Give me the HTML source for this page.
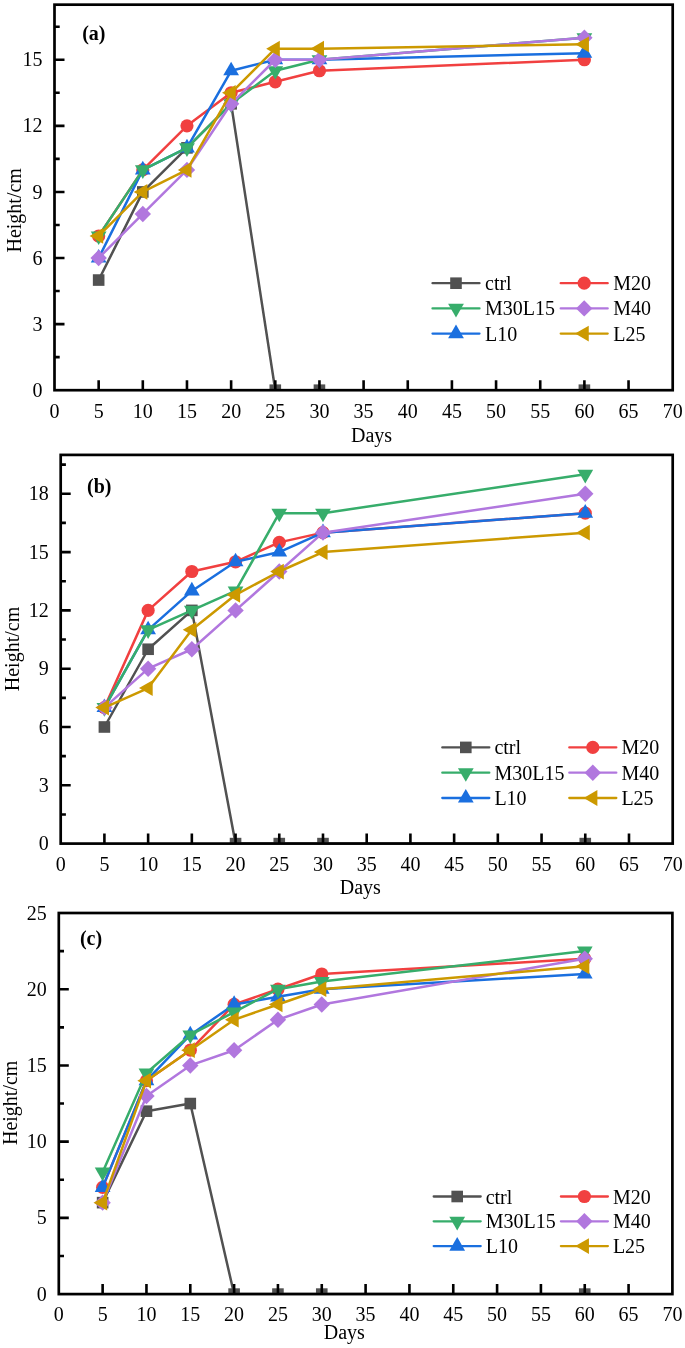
<!DOCTYPE html>
<html><head><meta charset="utf-8"><title>Height chart</title>
<style>
html,body{margin:0;padding:0;background:#fff;}
body{width:685px;height:1348px;overflow:hidden;}
svg{display:block;will-change:transform;}
text{font-family:"Liberation Serif",serif;font-size:20px;fill:#000;}
.b{font-weight:bold;}
</style></head><body>
<svg width="685" height="1348" viewBox="0 0 685 1348">
<rect width="685" height="1348" fill="#fff"/>
<clipPath id="c0"><rect x="54.5" y="4.67" width="618.2" height="385.53"/></clipPath>
<g clip-path="url(#c0)">
<polyline points="98.66,280.05 142.81,191.93 186.97,147.87 231.13,103.81 275.29,390.2 319.44,390.2 584.39,390.2" fill="none" stroke="#515151" stroke-width="2.5" stroke-linejoin="round"/>
<rect x="92.86" y="274.25" width="11.6" height="11.6" fill="#515151"/>
<rect x="137.01" y="186.13" width="11.6" height="11.6" fill="#515151"/>
<rect x="181.17" y="142.07" width="11.6" height="11.6" fill="#515151"/>
<rect x="225.33" y="98.01" width="11.6" height="11.6" fill="#515151"/>
<rect x="269.49" y="384.4" width="11.6" height="11.6" fill="#515151"/>
<rect x="313.64" y="384.4" width="11.6" height="11.6" fill="#515151"/>
<rect x="578.59" y="384.4" width="11.6" height="11.6" fill="#515151"/>
<polyline points="98.66,235.99 142.81,169.9 186.97,125.84 231.13,92.79 275.29,81.78 319.44,70.76 584.39,59.75" fill="none" stroke="#F14040" stroke-width="2.5" stroke-linejoin="round"/>
<circle cx="98.66" cy="235.99" r="6.6" fill="#F14040"/>
<circle cx="142.81" cy="169.9" r="6.6" fill="#F14040"/>
<circle cx="186.97" cy="125.84" r="6.6" fill="#F14040"/>
<circle cx="231.13" cy="92.79" r="6.6" fill="#F14040"/>
<circle cx="275.29" cy="81.78" r="6.6" fill="#F14040"/>
<circle cx="319.44" cy="70.76" r="6.6" fill="#F14040"/>
<circle cx="584.39" cy="59.75" r="6.6" fill="#F14040"/>
<polyline points="98.66,258.02 142.81,169.9 186.97,147.87 231.13,70.76 275.29,59.75 319.44,59.75 584.39,53.14" fill="none" stroke="#1A6FDF" stroke-width="2.5" stroke-linejoin="round"/>
<polygon points="98.66,248.92 106.54,262.57 90.78,262.57" fill="#1A6FDF"/>
<polygon points="142.81,160.8 150.7,174.45 134.93,174.45" fill="#1A6FDF"/>
<polygon points="186.97,138.77 194.85,152.42 179.09,152.42" fill="#1A6FDF"/>
<polygon points="231.13,61.66 239.01,75.31 223.25,75.31" fill="#1A6FDF"/>
<polygon points="275.29,50.65 283.17,64.3 267.4,64.3" fill="#1A6FDF"/>
<polygon points="319.44,50.65 327.32,64.3 311.56,64.3" fill="#1A6FDF"/>
<polygon points="584.39,44.04 592.27,57.69 576.5,57.69" fill="#1A6FDF"/>
<polyline points="98.66,235.99 142.81,169.9 186.97,147.87 231.13,103.81 275.29,70.76 319.44,59.75 584.39,37.72" fill="none" stroke="#37AD6B" stroke-width="2.5" stroke-linejoin="round"/>
<polygon points="98.66,245.09 106.54,231.44 90.78,231.44" fill="#37AD6B"/>
<polygon points="142.81,179 150.7,165.35 134.93,165.35" fill="#37AD6B"/>
<polygon points="186.97,156.97 194.85,143.32 179.09,143.32" fill="#37AD6B"/>
<polygon points="231.13,112.91 239.01,99.26 223.25,99.26" fill="#37AD6B"/>
<polygon points="275.29,79.86 283.17,66.21 267.4,66.21" fill="#37AD6B"/>
<polygon points="319.44,68.85 327.32,55.2 311.56,55.2" fill="#37AD6B"/>
<polygon points="584.39,46.82 592.27,33.17 576.5,33.17" fill="#37AD6B"/>
<polyline points="98.66,258.02 142.81,213.96 186.97,169.9 231.13,103.81 275.29,59.75 319.44,59.75 584.39,37.72" fill="none" stroke="#B177DE" stroke-width="2.5" stroke-linejoin="round"/>
<polygon points="98.66,249.82 106.86,258.02 98.66,266.22 90.46,258.02" fill="#B177DE"/>
<polygon points="142.81,205.76 151.01,213.96 142.81,222.16 134.61,213.96" fill="#B177DE"/>
<polygon points="186.97,161.7 195.17,169.9 186.97,178.1 178.77,169.9" fill="#B177DE"/>
<polygon points="231.13,95.61 239.33,103.81 231.13,112.01 222.93,103.81" fill="#B177DE"/>
<polygon points="275.29,51.55 283.49,59.75 275.29,67.95 267.09,59.75" fill="#B177DE"/>
<polygon points="319.44,51.55 327.64,59.75 319.44,67.95 311.24,59.75" fill="#B177DE"/>
<polygon points="584.39,29.52 592.59,37.72 584.39,45.92 576.19,37.72" fill="#B177DE"/>
<polyline points="98.66,235.99 142.81,191.93 186.97,169.9 231.13,92.79 275.29,48.73 319.44,48.73 584.39,44.32" fill="none" stroke="#CC9900" stroke-width="2.5" stroke-linejoin="round"/>
<polygon points="89.56,235.99 103.21,228.11 103.21,243.87" fill="#CC9900"/>
<polygon points="133.71,191.93 147.36,184.05 147.36,199.81" fill="#CC9900"/>
<polygon points="177.87,169.9 191.52,162.02 191.52,177.78" fill="#CC9900"/>
<polygon points="222.03,92.79 235.68,84.91 235.68,100.67" fill="#CC9900"/>
<polygon points="266.19,48.73 279.84,40.85 279.84,56.61" fill="#CC9900"/>
<polygon points="310.34,48.73 323.99,40.85 323.99,56.61" fill="#CC9900"/>
<polygon points="575.29,44.32 588.94,36.44 588.94,52.21" fill="#CC9900"/>
</g>
<rect x="54.5" y="4.67" width="618.2" height="385.53" fill="none" stroke="#000" stroke-width="2.7"/>
<path d="M98.66 390.2V380.2M142.81 390.2V380.2M186.97 390.2V380.2M231.13 390.2V380.2M275.29 390.2V380.2M319.44 390.2V380.2M363.6 390.2V380.2M407.76 390.2V380.2M451.91 390.2V380.2M496.07 390.2V380.2M540.23 390.2V380.2M584.39 390.2V380.2M628.54 390.2V380.2M54.5 357.15H59.7M54.5 324.11H64.5M54.5 291.06H59.7M54.5 258.02H64.5M54.5 224.97H59.7M54.5 191.93H64.5M54.5 158.88H59.7M54.5 125.84H64.5M54.5 92.79H59.7M54.5 59.75H64.5M54.5 26.7H59.7" stroke="#000" stroke-width="2.6" fill="none"/>
<text x="54.5" y="417.7" text-anchor="middle">0</text>
<text x="98.66" y="417.7" text-anchor="middle">5</text>
<text x="142.81" y="417.7" text-anchor="middle">10</text>
<text x="186.97" y="417.7" text-anchor="middle">15</text>
<text x="231.13" y="417.7" text-anchor="middle">20</text>
<text x="275.29" y="417.7" text-anchor="middle">25</text>
<text x="319.44" y="417.7" text-anchor="middle">30</text>
<text x="363.6" y="417.7" text-anchor="middle">35</text>
<text x="407.76" y="417.7" text-anchor="middle">40</text>
<text x="451.91" y="417.7" text-anchor="middle">45</text>
<text x="496.07" y="417.7" text-anchor="middle">50</text>
<text x="540.23" y="417.7" text-anchor="middle">55</text>
<text x="584.39" y="417.7" text-anchor="middle">60</text>
<text x="628.54" y="417.7" text-anchor="middle">65</text>
<text x="672.7" y="417.7" text-anchor="middle">70</text>
<text x="42.5" y="396.8" text-anchor="end">0</text>
<text x="42.5" y="330.71" text-anchor="end">3</text>
<text x="42.5" y="264.62" text-anchor="end">6</text>
<text x="42.5" y="198.53" text-anchor="end">9</text>
<text x="42.5" y="132.44" text-anchor="end">12</text>
<text x="42.5" y="66.35" text-anchor="end">15</text>
<text class="b" x="82.2" y="39.5">(a)</text>
<text x="351" y="441.8">Days</text>
<text x="21" y="210.3" text-anchor="middle" transform="rotate(-90 21 210.3)">Height/cm</text>
<line x1="432.5" y1="283.2" x2="479.5" y2="283.2" stroke="#515151" stroke-width="2.3" stroke-linecap="round"/>
<rect x="450.2" y="277.4" width="11.6" height="11.6" fill="#515151"/>
<text x="485" y="290.2">ctrl</text>
<line x1="432.5" y1="308.4" x2="479.5" y2="308.4" stroke="#37AD6B" stroke-width="2.3" stroke-linecap="round"/>
<polygon points="456,317.5 463.88,303.85 448.12,303.85" fill="#37AD6B"/>
<text x="485" y="315.4">M30L15</text>
<line x1="432.5" y1="333.6" x2="479.5" y2="333.6" stroke="#1A6FDF" stroke-width="2.3" stroke-linecap="round"/>
<polygon points="456,324.5 463.88,338.15 448.12,338.15" fill="#1A6FDF"/>
<text x="485" y="340.6">L10</text>
<line x1="560.7" y1="283.2" x2="607.7" y2="283.2" stroke="#F14040" stroke-width="2.3" stroke-linecap="round"/>
<circle cx="584.2" cy="283.2" r="6.6" fill="#F14040"/>
<text x="613.2" y="290.2">M20</text>
<line x1="560.7" y1="308.4" x2="607.7" y2="308.4" stroke="#B177DE" stroke-width="2.3" stroke-linecap="round"/>
<polygon points="584.2,300.2 592.4,308.4 584.2,316.6 576,308.4" fill="#B177DE"/>
<text x="613.2" y="315.4">M40</text>
<line x1="560.7" y1="333.6" x2="607.7" y2="333.6" stroke="#CC9900" stroke-width="2.3" stroke-linecap="round"/>
<polygon points="575.1,333.6 588.75,325.72 588.75,341.48" fill="#CC9900"/>
<text x="613.2" y="340.6">L25</text>
<clipPath id="c1"><rect x="60.7" y="454.9" width="612" height="388.7"/></clipPath>
<g clip-path="url(#c1)">
<polyline points="104.41,726.99 148.13,649.25 191.84,610.38 235.56,843.6 279.27,843.6 322.99,843.6 585.27,843.6" fill="none" stroke="#515151" stroke-width="2.5" stroke-linejoin="round"/>
<rect x="98.61" y="721.19" width="11.6" height="11.6" fill="#515151"/>
<rect x="142.33" y="643.45" width="11.6" height="11.6" fill="#515151"/>
<rect x="186.04" y="604.58" width="11.6" height="11.6" fill="#515151"/>
<rect x="229.76" y="837.8" width="11.6" height="11.6" fill="#515151"/>
<rect x="273.47" y="837.8" width="11.6" height="11.6" fill="#515151"/>
<rect x="317.19" y="837.8" width="11.6" height="11.6" fill="#515151"/>
<rect x="579.47" y="837.8" width="11.6" height="11.6" fill="#515151"/>
<polyline points="104.41,707.56 148.13,610.38 191.84,571.51 235.56,561.79 279.27,542.36 322.99,532.64 585.27,513.2" fill="none" stroke="#F14040" stroke-width="2.5" stroke-linejoin="round"/>
<circle cx="104.41" cy="707.56" r="6.6" fill="#F14040"/>
<circle cx="148.13" cy="610.38" r="6.6" fill="#F14040"/>
<circle cx="191.84" cy="571.51" r="6.6" fill="#F14040"/>
<circle cx="235.56" cy="561.79" r="6.6" fill="#F14040"/>
<circle cx="279.27" cy="542.36" r="6.6" fill="#F14040"/>
<circle cx="322.99" cy="532.64" r="6.6" fill="#F14040"/>
<circle cx="585.27" cy="513.2" r="6.6" fill="#F14040"/>
<polyline points="104.41,707.56 148.13,629.82 191.84,590.94 235.56,561.79 279.27,552.08 322.99,532.64 585.27,513.2" fill="none" stroke="#1A6FDF" stroke-width="2.5" stroke-linejoin="round"/>
<polygon points="104.41,698.46 112.3,712.11 96.53,712.11" fill="#1A6FDF"/>
<polygon points="148.13,620.72 156.01,634.37 140.25,634.37" fill="#1A6FDF"/>
<polygon points="191.84,581.84 199.72,595.49 183.96,595.49" fill="#1A6FDF"/>
<polygon points="235.56,552.69 243.44,566.34 227.68,566.34" fill="#1A6FDF"/>
<polygon points="279.27,542.98 287.15,556.62 271.39,556.62" fill="#1A6FDF"/>
<polygon points="322.99,523.54 330.87,537.19 315.1,537.19" fill="#1A6FDF"/>
<polygon points="585.27,504.1 593.15,517.75 577.39,517.75" fill="#1A6FDF"/>
<polyline points="104.41,707.56 148.13,629.82 191.84,610.38 235.56,590.94 279.27,513.2 322.99,513.2 585.27,474.33" fill="none" stroke="#37AD6B" stroke-width="2.5" stroke-linejoin="round"/>
<polygon points="104.41,716.66 112.3,703.01 96.53,703.01" fill="#37AD6B"/>
<polygon points="148.13,638.92 156.01,625.27 140.25,625.27" fill="#37AD6B"/>
<polygon points="191.84,619.48 199.72,605.83 183.96,605.83" fill="#37AD6B"/>
<polygon points="235.56,600.04 243.44,586.39 227.68,586.39" fill="#37AD6B"/>
<polygon points="279.27,522.3 287.15,508.65 271.39,508.65" fill="#37AD6B"/>
<polygon points="322.99,522.3 330.87,508.65 315.1,508.65" fill="#37AD6B"/>
<polygon points="585.27,483.44 593.15,469.78 577.39,469.78" fill="#37AD6B"/>
<polyline points="104.41,707.56 148.13,668.68 191.84,649.25 235.56,610.38 279.27,571.51 322.99,532.64 585.27,493.77" fill="none" stroke="#B177DE" stroke-width="2.5" stroke-linejoin="round"/>
<polygon points="104.41,699.36 112.61,707.56 104.41,715.76 96.21,707.56" fill="#B177DE"/>
<polygon points="148.13,660.48 156.33,668.68 148.13,676.88 139.93,668.68" fill="#B177DE"/>
<polygon points="191.84,641.05 200.04,649.25 191.84,657.45 183.64,649.25" fill="#B177DE"/>
<polygon points="235.56,602.18 243.76,610.38 235.56,618.58 227.36,610.38" fill="#B177DE"/>
<polygon points="279.27,563.31 287.47,571.51 279.27,579.71 271.07,571.51" fill="#B177DE"/>
<polygon points="322.99,524.44 331.19,532.64 322.99,540.84 314.79,532.64" fill="#B177DE"/>
<polygon points="585.27,485.57 593.47,493.77 585.27,501.97 577.07,493.77" fill="#B177DE"/>
<polyline points="104.41,707.56 148.13,688.12 191.84,629.82 235.56,594.83 279.27,571.51 322.99,552.08 585.27,532.64" fill="none" stroke="#CC9900" stroke-width="2.5" stroke-linejoin="round"/>
<polygon points="95.31,707.56 108.96,699.67 108.96,715.44" fill="#CC9900"/>
<polygon points="139.03,688.12 152.68,680.24 152.68,696" fill="#CC9900"/>
<polygon points="182.74,629.82 196.39,621.93 196.39,637.7" fill="#CC9900"/>
<polygon points="226.46,594.83 240.11,586.95 240.11,602.71" fill="#CC9900"/>
<polygon points="270.17,571.51 283.82,563.63 283.82,579.39" fill="#CC9900"/>
<polygon points="313.89,552.08 327.54,544.19 327.54,559.96" fill="#CC9900"/>
<polygon points="576.17,532.64 589.82,524.76 589.82,540.52" fill="#CC9900"/>
</g>
<rect x="60.7" y="454.9" width="612" height="388.7" fill="none" stroke="#000" stroke-width="2.7"/>
<path d="M104.41 843.6V833.6M148.13 843.6V833.6M191.84 843.6V833.6M235.56 843.6V833.6M279.27 843.6V833.6M322.99 843.6V833.6M366.7 843.6V833.6M410.41 843.6V833.6M454.13 843.6V833.6M497.84 843.6V833.6M541.56 843.6V833.6M585.27 843.6V833.6M628.99 843.6V833.6M60.7 814.45H65.9M60.7 785.3H70.7M60.7 756.14H65.9M60.7 726.99H70.7M60.7 697.84H65.9M60.7 668.68H70.7M60.7 639.53H65.9M60.7 610.38H70.7M60.7 581.23H65.9M60.7 552.08H70.7M60.7 522.92H65.9M60.7 493.77H70.7M60.7 464.62H65.9" stroke="#000" stroke-width="2.6" fill="none"/>
<text x="60.7" y="870.8" text-anchor="middle">0</text>
<text x="104.41" y="870.8" text-anchor="middle">5</text>
<text x="148.13" y="870.8" text-anchor="middle">10</text>
<text x="191.84" y="870.8" text-anchor="middle">15</text>
<text x="235.56" y="870.8" text-anchor="middle">20</text>
<text x="279.27" y="870.8" text-anchor="middle">25</text>
<text x="322.99" y="870.8" text-anchor="middle">30</text>
<text x="366.7" y="870.8" text-anchor="middle">35</text>
<text x="410.41" y="870.8" text-anchor="middle">40</text>
<text x="454.13" y="870.8" text-anchor="middle">45</text>
<text x="497.84" y="870.8" text-anchor="middle">50</text>
<text x="541.56" y="870.8" text-anchor="middle">55</text>
<text x="585.27" y="870.8" text-anchor="middle">60</text>
<text x="628.99" y="870.8" text-anchor="middle">65</text>
<text x="672.7" y="870.8" text-anchor="middle">70</text>
<text x="48.7" y="850.2" text-anchor="end">0</text>
<text x="48.7" y="791.9" text-anchor="end">3</text>
<text x="48.7" y="733.59" text-anchor="end">6</text>
<text x="48.7" y="675.28" text-anchor="end">9</text>
<text x="48.7" y="616.98" text-anchor="end">12</text>
<text x="48.7" y="558.68" text-anchor="end">15</text>
<text x="48.7" y="500.37" text-anchor="end">18</text>
<text class="b" x="87" y="492.6">(b)</text>
<text x="339.8" y="893.6">Days</text>
<text x="19" y="649" text-anchor="middle" transform="rotate(-90 19 649)">Height/cm</text>
<line x1="442.3" y1="747.4" x2="489.3" y2="747.4" stroke="#515151" stroke-width="2.3" stroke-linecap="round"/>
<rect x="460" y="741.6" width="11.6" height="11.6" fill="#515151"/>
<text x="494.4" y="754.4">ctrl</text>
<line x1="442.3" y1="772.7" x2="489.3" y2="772.7" stroke="#37AD6B" stroke-width="2.3" stroke-linecap="round"/>
<polygon points="465.8,781.8 473.68,768.15 457.92,768.15" fill="#37AD6B"/>
<text x="494.4" y="779.7">M30L15</text>
<line x1="442.3" y1="798" x2="489.3" y2="798" stroke="#1A6FDF" stroke-width="2.3" stroke-linecap="round"/>
<polygon points="465.8,788.9 473.68,802.55 457.92,802.55" fill="#1A6FDF"/>
<text x="494.4" y="805">L10</text>
<line x1="569.3" y1="747.4" x2="616.3" y2="747.4" stroke="#F14040" stroke-width="2.3" stroke-linecap="round"/>
<circle cx="592.8" cy="747.4" r="6.6" fill="#F14040"/>
<text x="621.4" y="754.4">M20</text>
<line x1="569.3" y1="772.7" x2="616.3" y2="772.7" stroke="#B177DE" stroke-width="2.3" stroke-linecap="round"/>
<polygon points="592.8,764.5 601,772.7 592.8,780.9 584.6,772.7" fill="#B177DE"/>
<text x="621.4" y="779.7">M40</text>
<line x1="569.3" y1="798" x2="616.3" y2="798" stroke="#CC9900" stroke-width="2.3" stroke-linecap="round"/>
<polygon points="583.7,798 597.35,790.12 597.35,805.88" fill="#CC9900"/>
<text x="621.4" y="805">L25</text>
<clipPath id="c2"><rect x="58.8" y="913" width="613.6" height="381.1"/></clipPath>
<g clip-path="url(#c2)">
<polyline points="102.63,1202.64 146.46,1111.17 190.29,1103.55 234.11,1294.1 277.94,1294.1 321.77,1294.1 584.74,1294.1" fill="none" stroke="#515151" stroke-width="2.5" stroke-linejoin="round"/>
<rect x="96.83" y="1196.84" width="11.6" height="11.6" fill="#515151"/>
<rect x="140.66" y="1105.37" width="11.6" height="11.6" fill="#515151"/>
<rect x="184.49" y="1097.75" width="11.6" height="11.6" fill="#515151"/>
<rect x="228.31" y="1288.3" width="11.6" height="11.6" fill="#515151"/>
<rect x="272.14" y="1288.3" width="11.6" height="11.6" fill="#515151"/>
<rect x="315.97" y="1288.3" width="11.6" height="11.6" fill="#515151"/>
<rect x="578.94" y="1288.3" width="11.6" height="11.6" fill="#515151"/>
<polyline points="102.63,1187.39 146.46,1080.68 190.29,1050.2 234.11,1004.46 277.94,989.22 321.77,973.98 584.74,958.73" fill="none" stroke="#F14040" stroke-width="2.5" stroke-linejoin="round"/>
<circle cx="102.63" cy="1187.39" r="6.6" fill="#F14040"/>
<circle cx="146.46" cy="1080.68" r="6.6" fill="#F14040"/>
<circle cx="190.29" cy="1050.2" r="6.6" fill="#F14040"/>
<circle cx="234.11" cy="1004.46" r="6.6" fill="#F14040"/>
<circle cx="277.94" cy="989.22" r="6.6" fill="#F14040"/>
<circle cx="321.77" cy="973.98" r="6.6" fill="#F14040"/>
<circle cx="584.74" cy="958.73" r="6.6" fill="#F14040"/>
<polyline points="102.63,1187.39 146.46,1080.68 190.29,1034.95 234.11,1004.46 277.94,996.84 321.77,989.22 584.74,973.98" fill="none" stroke="#1A6FDF" stroke-width="2.5" stroke-linejoin="round"/>
<polygon points="102.63,1178.29 110.51,1191.94 94.75,1191.94" fill="#1A6FDF"/>
<polygon points="146.46,1071.58 154.34,1085.23 138.58,1085.23" fill="#1A6FDF"/>
<polygon points="190.29,1025.85 198.17,1039.5 182.4,1039.5" fill="#1A6FDF"/>
<polygon points="234.11,995.36 242,1009.01 226.23,1009.01" fill="#1A6FDF"/>
<polygon points="277.94,987.74 285.82,1001.39 270.06,1001.39" fill="#1A6FDF"/>
<polygon points="321.77,980.12 329.65,993.77 313.89,993.77" fill="#1A6FDF"/>
<polygon points="584.74,964.88 592.62,978.53 576.86,978.53" fill="#1A6FDF"/>
<polyline points="102.63,1172.15 146.46,1073.06 190.29,1034.95 234.11,1012.09 277.94,989.22 321.77,981.6 584.74,951.11" fill="none" stroke="#37AD6B" stroke-width="2.5" stroke-linejoin="round"/>
<polygon points="102.63,1181.25 110.51,1167.6 94.75,1167.6" fill="#37AD6B"/>
<polygon points="146.46,1082.16 154.34,1068.51 138.58,1068.51" fill="#37AD6B"/>
<polygon points="190.29,1044.05 198.17,1030.4 182.4,1030.4" fill="#37AD6B"/>
<polygon points="234.11,1021.19 242,1007.54 226.23,1007.54" fill="#37AD6B"/>
<polygon points="277.94,998.32 285.82,984.67 270.06,984.67" fill="#37AD6B"/>
<polygon points="321.77,990.7 329.65,977.05 313.89,977.05" fill="#37AD6B"/>
<polygon points="584.74,960.21 592.62,946.56 576.86,946.56" fill="#37AD6B"/>
<polyline points="102.63,1202.64 146.46,1095.93 190.29,1065.44 234.11,1050.2 277.94,1019.71 321.77,1004.46 584.74,958.73" fill="none" stroke="#B177DE" stroke-width="2.5" stroke-linejoin="round"/>
<polygon points="102.63,1194.44 110.83,1202.64 102.63,1210.84 94.43,1202.64" fill="#B177DE"/>
<polygon points="146.46,1087.73 154.66,1095.93 146.46,1104.13 138.26,1095.93" fill="#B177DE"/>
<polygon points="190.29,1057.24 198.49,1065.44 190.29,1073.64 182.09,1065.44" fill="#B177DE"/>
<polygon points="234.11,1042 242.31,1050.2 234.11,1058.4 225.91,1050.2" fill="#B177DE"/>
<polygon points="277.94,1011.51 286.14,1019.71 277.94,1027.91 269.74,1019.71" fill="#B177DE"/>
<polygon points="321.77,996.26 329.97,1004.46 321.77,1012.66 313.57,1004.46" fill="#B177DE"/>
<polygon points="584.74,950.53 592.94,958.73 584.74,966.93 576.54,958.73" fill="#B177DE"/>
<polyline points="102.63,1202.64 146.46,1080.68 190.29,1050.2 234.11,1019.71 277.94,1004.46 321.77,989.22 584.74,966.35" fill="none" stroke="#CC9900" stroke-width="2.5" stroke-linejoin="round"/>
<polygon points="93.53,1202.64 107.18,1194.76 107.18,1210.52" fill="#CC9900"/>
<polygon points="137.36,1080.68 151.01,1072.8 151.01,1088.56" fill="#CC9900"/>
<polygon points="181.19,1050.2 194.84,1042.32 194.84,1058.08" fill="#CC9900"/>
<polygon points="225.01,1019.71 238.66,1011.83 238.66,1027.59" fill="#CC9900"/>
<polygon points="268.84,1004.46 282.49,996.58 282.49,1012.34" fill="#CC9900"/>
<polygon points="312.67,989.22 326.32,981.34 326.32,997.1" fill="#CC9900"/>
<polygon points="575.64,966.35 589.29,958.47 589.29,974.23" fill="#CC9900"/>
</g>
<rect x="58.8" y="913" width="613.6" height="381.1" fill="none" stroke="#000" stroke-width="2.7"/>
<path d="M102.63 1294.1V1284.1M146.46 1294.1V1284.1M190.29 1294.1V1284.1M234.11 1294.1V1284.1M277.94 1294.1V1284.1M321.77 1294.1V1284.1M365.6 1294.1V1284.1M409.43 1294.1V1284.1M453.26 1294.1V1284.1M497.09 1294.1V1284.1M540.91 1294.1V1284.1M584.74 1294.1V1284.1M628.57 1294.1V1284.1M58.8 1255.99H64M58.8 1217.88H68.8M58.8 1179.77H64M58.8 1141.66H68.8M58.8 1103.55H64M58.8 1065.44H68.8M58.8 1027.33H64M58.8 989.22H68.8M58.8 951.11H64" stroke="#000" stroke-width="2.6" fill="none"/>
<text x="58.8" y="1320.8" text-anchor="middle">0</text>
<text x="102.63" y="1320.8" text-anchor="middle">5</text>
<text x="146.46" y="1320.8" text-anchor="middle">10</text>
<text x="190.29" y="1320.8" text-anchor="middle">15</text>
<text x="234.11" y="1320.8" text-anchor="middle">20</text>
<text x="277.94" y="1320.8" text-anchor="middle">25</text>
<text x="321.77" y="1320.8" text-anchor="middle">30</text>
<text x="365.6" y="1320.8" text-anchor="middle">35</text>
<text x="409.43" y="1320.8" text-anchor="middle">40</text>
<text x="453.26" y="1320.8" text-anchor="middle">45</text>
<text x="497.09" y="1320.8" text-anchor="middle">50</text>
<text x="540.91" y="1320.8" text-anchor="middle">55</text>
<text x="584.74" y="1320.8" text-anchor="middle">60</text>
<text x="628.57" y="1320.8" text-anchor="middle">65</text>
<text x="672.4" y="1320.8" text-anchor="middle">70</text>
<text x="46.8" y="1300.7" text-anchor="end">0</text>
<text x="46.8" y="1224.48" text-anchor="end">5</text>
<text x="46.8" y="1148.26" text-anchor="end">10</text>
<text x="46.8" y="1072.04" text-anchor="end">15</text>
<text x="46.8" y="995.82" text-anchor="end">20</text>
<text x="46.8" y="919.6" text-anchor="end">25</text>
<text class="b" x="79.9" y="944.5">(c)</text>
<text x="323.8" y="1338.6">Days</text>
<text x="16.8" y="1102.8" text-anchor="middle" transform="rotate(-90 16.8 1102.8)">Height/cm</text>
<line x1="433.7" y1="1196.5" x2="480.7" y2="1196.5" stroke="#515151" stroke-width="2.3" stroke-linecap="round"/>
<rect x="451.4" y="1190.7" width="11.6" height="11.6" fill="#515151"/>
<text x="485.7" y="1203.5">ctrl</text>
<line x1="433.7" y1="1221.3" x2="480.7" y2="1221.3" stroke="#37AD6B" stroke-width="2.3" stroke-linecap="round"/>
<polygon points="457.2,1230.4 465.08,1216.75 449.32,1216.75" fill="#37AD6B"/>
<text x="485.7" y="1228.3">M30L15</text>
<line x1="433.7" y1="1246.1" x2="480.7" y2="1246.1" stroke="#1A6FDF" stroke-width="2.3" stroke-linecap="round"/>
<polygon points="457.2,1237 465.08,1250.65 449.32,1250.65" fill="#1A6FDF"/>
<text x="485.7" y="1253.1">L10</text>
<line x1="560.9" y1="1196.5" x2="607.9" y2="1196.5" stroke="#F14040" stroke-width="2.3" stroke-linecap="round"/>
<circle cx="584.4" cy="1196.5" r="6.6" fill="#F14040"/>
<text x="612.9" y="1203.5">M20</text>
<line x1="560.9" y1="1221.3" x2="607.9" y2="1221.3" stroke="#B177DE" stroke-width="2.3" stroke-linecap="round"/>
<polygon points="584.4,1213.1 592.6,1221.3 584.4,1229.5 576.2,1221.3" fill="#B177DE"/>
<text x="612.9" y="1228.3">M40</text>
<line x1="560.9" y1="1246.1" x2="607.9" y2="1246.1" stroke="#CC9900" stroke-width="2.3" stroke-linecap="round"/>
<polygon points="575.3,1246.1 588.95,1238.22 588.95,1253.98" fill="#CC9900"/>
<text x="612.9" y="1253.1">L25</text>
</svg>
</body></html>
